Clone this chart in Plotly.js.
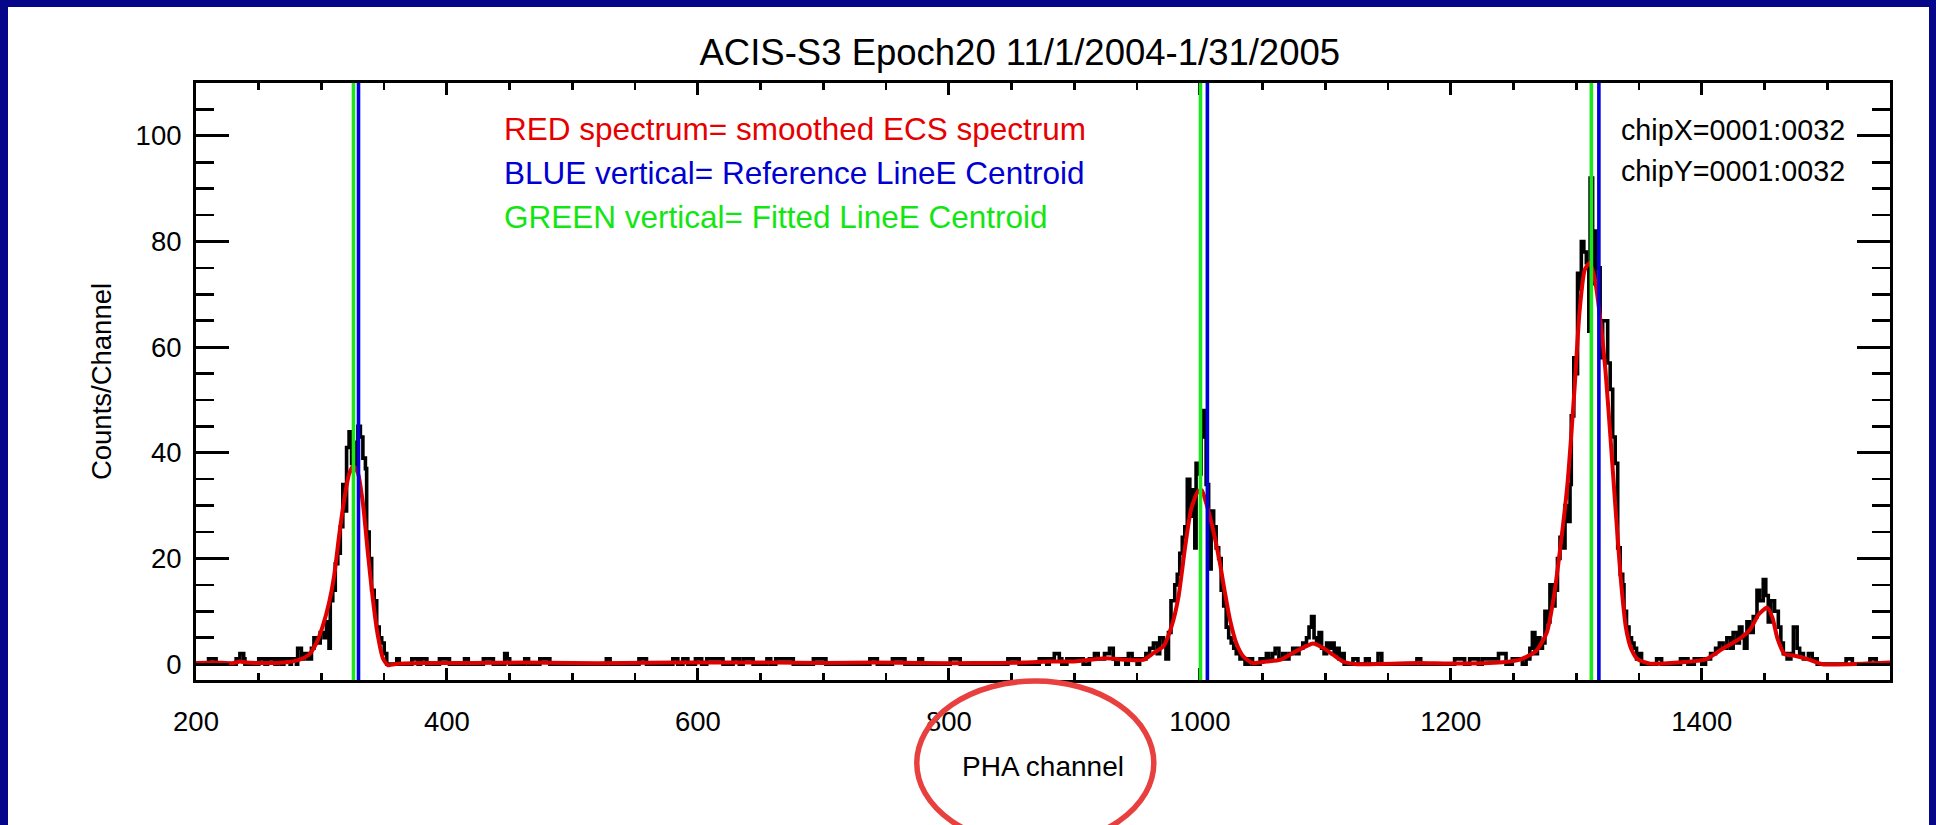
<!DOCTYPE html>
<html><head><meta charset="utf-8">
<script src="https://cdn.plot.ly/plotly-3.0.1.min.js"></script>
<style>
html,body{margin:0;padding:0;background:#06068a;width:1936px;height:825px;overflow:hidden;}
#chart{position:absolute;left:8px;top:7px;width:1921px;height:818px;background:#ffffff;}
</style></head><body><div id="chart"></div>
<script>
// Observed ECS spectrum: [start channel of step, counts/channel]
const histogramSteps = [
[200,0],[210,1],[216,0],[232,1],[235,2],[238,1],[239,0],[250,1],[255,0],[257,1],[263,0],[265,1],[268,0],[270,1],[275,0],[276,1],[280,0],
[281,3],[284,1],[286,2],[289,1],[292,3],[294,5],[297,4],[299,6],[302,5],[304,8],[306,3],[307,12],[309,14],[311,19],[313,21],[315,26],
[317,34],[319,29],[320,41],[322,44],[324,38],[326,42],[328,37],[329,45],[331,43],[333,39],[335,37],[336,25],[338,20],[340,14],[342,12],
[344,7],[346,5],[348,4],[350,2],[352,0],[360,1],[362,0],[372,1],[377,0],[379,1],[384,0],[394,1],[402,0],[414,1],[417,0],[429,1],[437,0],
[446,2],[448,1],[450,0],[462,1],[465,0],[474,1],[482,0],[527,1],[530,0],[553,1],[559,0],[580,1],[584,0],[588,1],[592,0],[598,1],[603,0],
[607,1],[620,0],[628,1],[633,0],[636,1],[644,0],[655,1],[658,0],[662,1],[676,0],[692,1],[702,0],[737,1],[743,0],[755,1],[765,0],[776,1],
[779,0],[801,1],[809,0],[847,1],[856,0],[872,1],[878,0],[880,1],[884,2],[888,1],[890,0],[894,1],[907,0],[912,1],[916,2],[919,1],[924,2],
[928,3],[931,1],[933,0],[935,1],[941,0],[943,2],[946,1],[950,0],[952,1],[957,2],[960,3],[963,4],[966,2],[968,5],[971,4],[973,1],[975,6],
[977,12],[980,15],[982,17],[984,21],[986,24],[988,26],[990,35],[992,28],[994,33],[996,22],[997,38],[999,36],[1001,43],[1003,48],[1005,34],
[1007,18],[1009,29],[1011,26],[1013,22],[1015,20],[1017,14],[1019,11],[1021,7],[1023,5],[1025,4],[1027,3],[1029,2],[1032,1],[1036,0],
[1039,1],[1042,0],[1048,1],[1053,2],[1055,1],[1058,2],[1060,3],[1063,1],[1066,2],[1068,1],[1071,2],[1074,3],[1077,2],[1079,3],[1082,4],
[1085,5],[1087,7],[1089,9],[1091,5],[1093,4],[1095,6],[1097,3],[1099,2],[1101,4],[1103,3],[1105,4],[1107,2],[1109,3],[1111,1],[1113,2],
[1115,0],[1122,1],[1126,0],[1132,1],[1135,0],[1142,2],[1145,0],[1173,1],[1176,0],[1203,1],[1211,0],[1215,1],[1222,0],[1225,1],[1238,2],
[1244,0],[1249,1],[1257,0],[1260,1],[1263,3],[1265,6],[1267,2],[1269,5],[1271,3],[1273,4],[1275,10],[1277,8],[1279,15],[1281,11],[1283,14],
[1285,20],[1287,24],[1289,22],[1291,30],[1293,27],[1295,34],[1296,47],[1298,58],[1300,55],[1301,74],[1303,71],[1304,80],[1306,78],[1308,76],
[1310,63],[1311,92],[1313,72],[1315,82],[1317,75],[1319,58],[1321,65],[1325,57],[1327,52],[1329,43],[1331,38],[1333,22],[1335,17],[1337,15],
[1338,10],[1340,7],[1342,5],[1344,4],[1346,3],[1348,1],[1350,2],[1352,0],[1364,1],[1368,0],[1383,1],[1389,0],[1394,1],[1400,0],[1403,1],
[1407,2],[1411,3],[1414,4],[1417,3],[1420,5],[1423,3],[1425,6],[1428,4],[1430,7],[1432,5],[1434,3],[1436,8],[1438,6],[1441,9],[1444,14],
[1446,12],[1449,16],[1451,13],[1453,8],[1455,12],[1458,10],[1461,7],[1463,4],[1465,2],[1468,1],[1471,2],[1473,7],[1476,3],[1478,2],[1481,1],
[1485,2],[1488,1],[1492,0],[1515,1],[1520,0],[1534,1],[1539,0],[1550,0]
];
// Smoothed ECS spectrum (red): [channel, counts/channel]
const smoothedSpectrum = [
[200,0.2],[215,0.3],[230,0.2],[235,0.5],[240,0.3],[255,0.2],[270,0.3],[282,0.8],[290,1.8],[296,4],[301,7.2],[306,11.6],[310,16.6],[314,24.2],
[318,31],[322,36],[325.5,37.5],[329,36.2],[333,30.5],[337,21],[341,12.2],[345,5.3],[349,1.1],[353,-0.2],[358,0],[380,0.2],[420,0.2],[460,0.3],
[500,0.2],[540,0.2],[580,0.3],[620,0.3],[660,0.3],[700,0.2],[740,0.3],[780,0.2],[820,0.2],[860,0.3],[880,0.5],[900,0.5],[925,1.1],[942,0.8],
[955,0.8],[963,2.1],[971,3.4],[977.5,7.2],[983,12.8],[988,21.7],[993,29.3],[998.5,32.7],[1001.5,32.9],[1005,30.5],[1010.5,25.5],[1016,19.1],
[1020,13.5],[1024,8.4],[1029,4],[1034.5,1.5],[1042,0.2],[1053,0.5],[1064,0.8],[1074,2.1],[1085,3.4],[1090,3.9],[1098,3.1],[1106,1.8],[1114,0.5],
[1125,0],[1175,0.2],[1200,0.1],[1241,0.35],[1255,0.85],[1268,2.5],[1276.5,6],[1282,12.6],[1287.5,22.5],[1293,34.2],[1298.5,51.8],[1302.6,66.8],
[1306.7,74.6],[1310.8,76],[1314.9,72.7],[1319,65.5],[1323.2,55.7],[1327.3,42.7],[1331.4,29],[1335.5,16],[1339.6,6.8],[1343.7,2.9],[1349,0.9],
[1359,0.1],[1381,0.3],[1403,0.9],[1416.5,2.9],[1430,4.8],[1438.4,6.5],[1445.3,9.4],[1452.2,10.7],[1456.3,8.8],[1460.4,4.8],[1466,1.9],[1474,1.6],
[1485,0.9],[1496,0],[1550,0.3]
];
const fittedCentroids = [325.5, 1000.5, 1312];     // GREEN
const referenceCentroids = [329.5, 1006, 1318];    // BLUE
const xTickValues = [200, 400, 600, 800, 1000, 1200, 1400];
const yTickValues = [0, 20, 40, 60, 80, 100];
const legendLines = [
  {text: 'RED spectrum= smoothed ECS spectrum', color: '#e60000'},
  {text: 'BLUE vertical= Reference LineE Centroid', color: '#0000d0'},
  {text: 'GREEN vertical= Fitted LineE Centroid', color: '#12e612'}
];
const chipLines = ['chipX=0001:0032', 'chipY=0001:0032'];

// ---- geometry (pixels inside the white panel) ----
const W = 1921, H = 818;
const M = {l: 188.4, r: 39, t: 76, b: 145};
const PW = W - M.l - M.r, PH = H - M.t - M.b;
const pxToPaperX = px => (px - M.l) / PW;
const pxToPaperY = py => (H - M.b - py) / PH;

const font = '"Liberation Sans", Arial, Helvetica, sans-serif';

const traces = [
  {x: histogramSteps.map(d => d[0]), y: histogramSteps.map(d => d[1]), type: 'scatter', mode: 'lines',
   line: {shape: 'hv', color: '#000000', width: 3.6}, hoverinfo: 'skip'},
  {x: smoothedSpectrum.map(d => d[0]), y: smoothedSpectrum.map(d => d[1]), type: 'scatter', mode: 'lines',
   line: {shape: 'spline', smoothing: 0.6, color: '#e00000', width: 4}, hoverinfo: 'skip'}
];

const shapes = [];
fittedCentroids.forEach(c => shapes.push({type: 'line', xref: 'x', yref: 'paper', x0: c, x1: c, y0: 0, y1: 1,
  line: {color: '#1ee61e', width: 3.6}, layer: 'above'}));
referenceCentroids.forEach(c => shapes.push({type: 'line', xref: 'x', yref: 'paper', x0: c, x1: c, y0: 0, y1: 1,
  line: {color: '#0000d8', width: 3.6}, layer: 'above'}));
// red hand-drawn ellipse around the x-axis title (panel px)
shapes.push({type: 'circle', xref: 'paper', yref: 'paper',
  x0: pxToPaperX(909), x1: pxToPaperX(1146), y0: pxToPaperY(674), y1: pxToPaperY(838),
  line: {color: '#e8403e', width: 5.5}, layer: 'above'});

const annotations = [];
legendLines.forEach((l, i) => annotations.push({xref: 'paper', yref: 'paper',
  x: pxToPaperX(494), y: pxToPaperY(122 + 44 * i), xanchor: 'left', yanchor: 'middle', showarrow: false,
  text: l.text, font: {family: font, size: 31.5, color: l.color}}));
chipLines.forEach((t, i) => annotations.push({xref: 'paper', yref: 'paper',
  x: pxToPaperX(1611), y: pxToPaperY(123 + 41 * i), xanchor: 'left', yanchor: 'middle', showarrow: false,
  text: t, font: {family: font, size: 28.7, color: '#000000'}}));

const axisCommon = {
  showline: true, linecolor: '#000', linewidth: 3, mirror: 'ticks', ticks: 'inside', tickcolor: '#000', tickwidth: 3,
  showgrid: false, zeroline: false, tickfont: {family: font, size: 27.5, color: '#000'}, fixedrange: true
};

const layout = {
  width: W, height: H, margin: M, paper_bgcolor: '#ffffff', plot_bgcolor: '#ffffff', showlegend: false,
  title: {text: 'ACIS-S3 Epoch20 11/1/2004-1/31/2005', font: {family: font, size: 36.5, color: '#000'},
          xref: 'paper', x: pxToPaperX(1012), xanchor: 'center', yref: 'container', y: 1 - 45 / H, yanchor: 'middle'},
  xaxis: Object.assign({}, axisCommon, {
    range: [200, 1550], tickmode: 'array', tickvals: xTickValues, ticktext: xTickValues.map(String), ticklen: 12,
    ticklabelstandoff: 15,
    minor: {dtick: 50, tick0: 200, ticks: 'inside', ticklen: 7, tickwidth: 2.5, tickcolor: '#000', showgrid: false},
    title: {text: 'PHA channel', font: {family: font, size: 28, color: '#000'}, standoff: 21}
  }),
  yaxis: Object.assign({}, axisCommon, {
    range: [-3, 110], tickmode: 'array', tickvals: yTickValues, ticktext: yTickValues.map(String), ticklen: 33,
    ticklabelstandoff: 6,
    minor: {dtick: 5, tick0: 0, ticks: 'inside', ticklen: 18, tickwidth: 2.5, tickcolor: '#000', showgrid: false},
    title: {text: 'Counts/Channel', font: {family: font, size: 27.5, color: '#000'}, standoff: 16}
  }),
  shapes: shapes, annotations: annotations
};

Plotly.newPlot('chart', traces, layout, {displayModeBar: false, staticPlot: true});
</script></body></html>
